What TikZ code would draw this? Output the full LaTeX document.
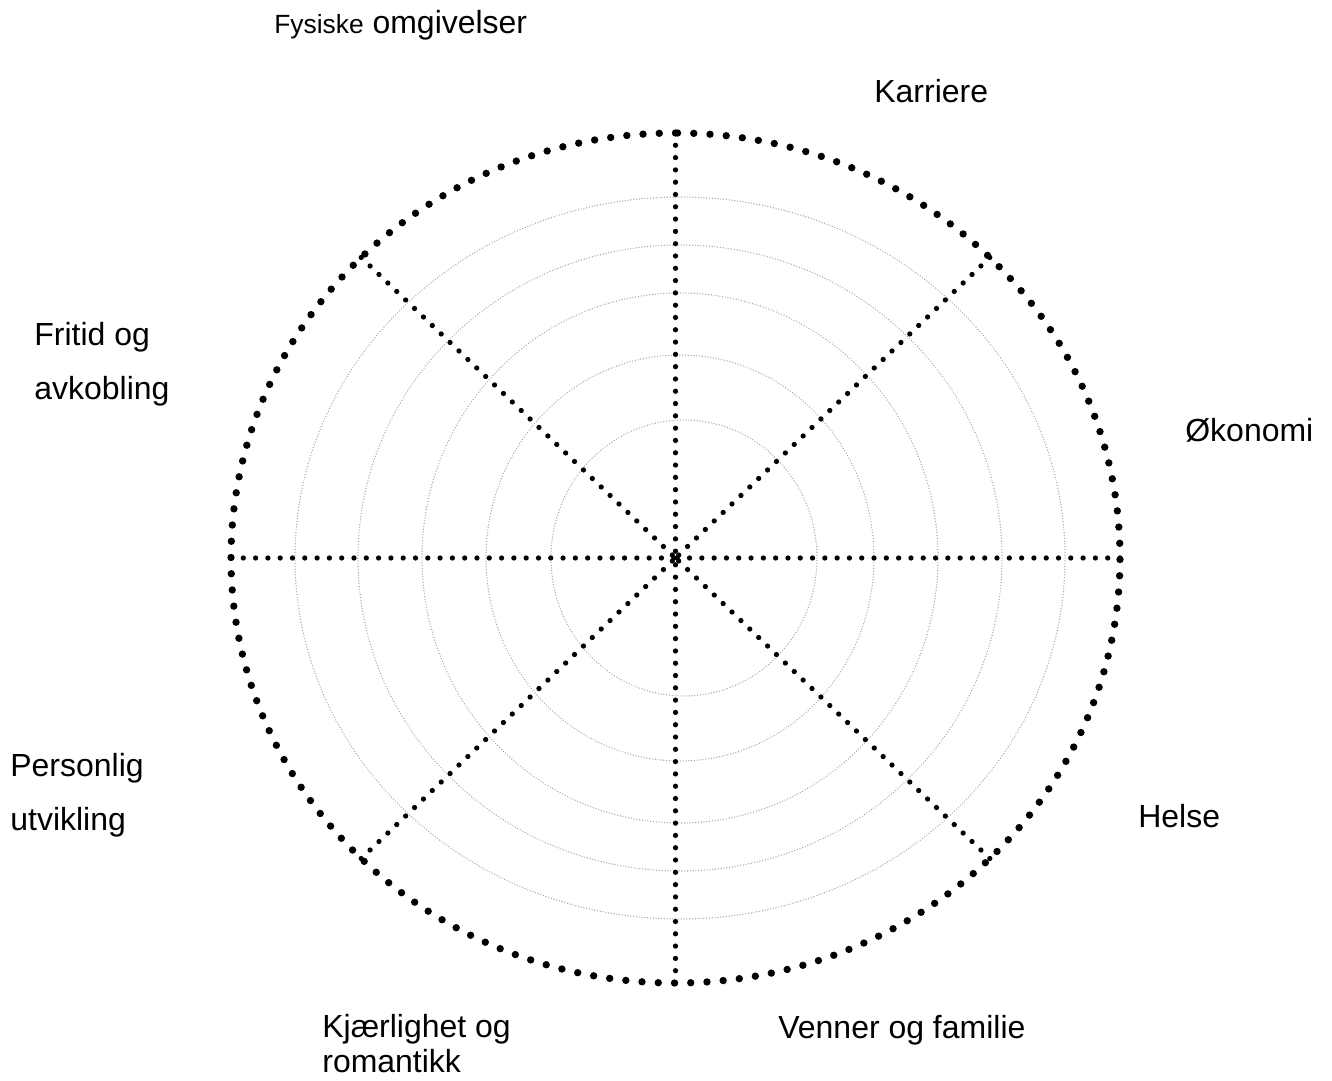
\documentclass[tikz,border=0pt]{standalone}
\usepackage{fontspec}
\setmainfont{Liberation Sans}
\usetikzlibrary{calc}

\tikzset{
  rim/.style={line width=4.2pt, line cap=round, dash pattern=on 0pt off 9.25pt},
  spoke/.style={line width=3pt, line cap=round, dash pattern=on 0pt off 7pt},
  ring/.style={line width=0.8pt, line cap=round, dash pattern=on 0pt off 1.6pt, draw=black!35},
  area/.style={inner sep=0pt, anchor=base west, align=left, font=\fontsize{18.2}{30.2}\selectfont},
}

\begin{document}
\begin{tikzpicture}[x=0.02cm, y=0.02cm]
    \useasboundingbox (0,0) rectangle (1332,1080);
    \coordinate (O) at (675.5,522);
    \foreach \cx/\rx/\ry in {684/133/138, 680/194/203, 680/258/265, 680/322/313, 680/385/361}
        \draw[ring] (\cx,522) ellipse [x radius=\rx, y radius=\ry];
    \coordinate (T) at ($(O)+(90:444.5 and 425)$);
    \draw[rim] (T) arc [start angle=90, end angle=450, x radius=444.5, y radius=425];
    \foreach \a in {0,45,...,315} {
        \coordinate (R\a) at ($(O)+(\a:444.5 and 425)$);
        \draw[spoke] (R\a) -- (O);
    }

    \node[area] (fysiske) at (274,1046) {{\fontsize{15}{17}\selectfont Fysiske} omgivelser};
    \node[area] (karriere) at (874,977) {Karriere};
    \node[area] (okonomi) at (1185,639) {Økonomi};
    \node[area] (fritid) at (34,681) {Fritid og\\avkobling};
    \node[area] (personlig) at (10,250) {Personlig\\utvikling};
    \node[area] (helse) at (1138,253) {Helse};
    \node[area, font=\fontsize{18.2}{19.6}\selectfont] (kjaerlighet) at (322,8) {Kjærlighet og\\romantikk};
    \node[area] (venner) at (778,42) {Venner og familie};
\end{tikzpicture}
\end{document}
